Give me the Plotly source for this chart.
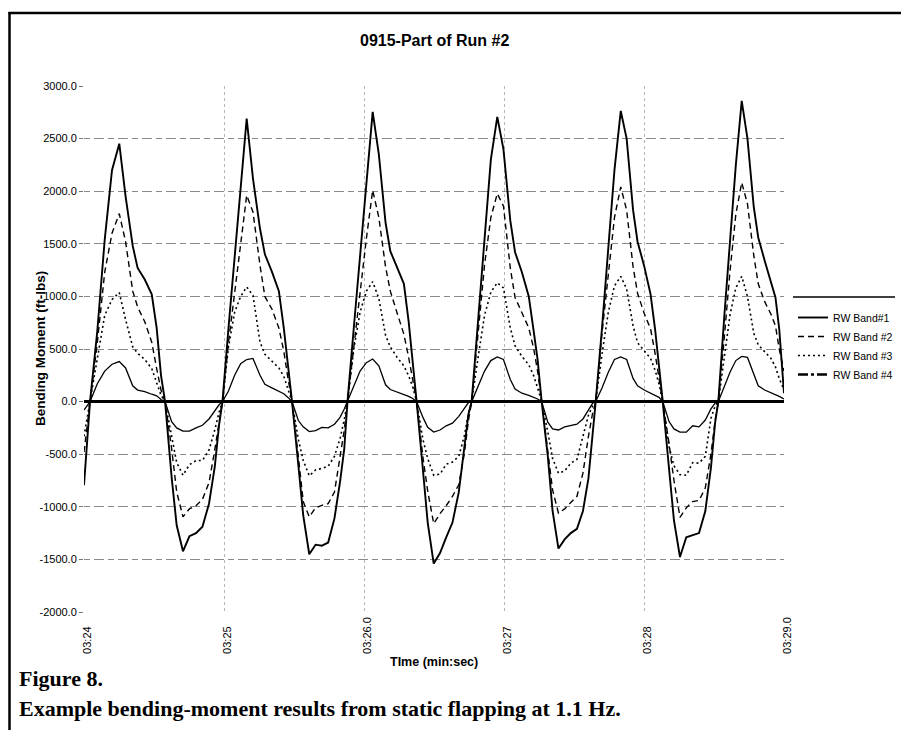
import plotly.graph_objects as go

# time in seconds after 03:24 (sample instants)
time_s = [
    0.000,
    0.043, 0.095, 0.148, 0.200, 0.252, 0.297, 0.348, 0.383, 0.434, 0.484, 0.519, 0.550, 0.579, 0.626, 0.662, 0.707, 0.753, 0.800, 0.846, 0.893, 0.934, 0.965,
    0.989, 1.032, 1.076, 1.119, 1.162, 1.207, 1.257, 1.292, 1.342, 1.392, 1.427, 1.457, 1.486, 1.531, 1.566, 1.609, 1.654, 1.699, 1.744, 1.789, 1.829, 1.859,
    1.882, 1.927, 1.972, 2.017, 2.062, 2.106, 2.154, 2.188, 2.237, 2.285, 2.319, 2.348, 2.376, 2.421, 2.455, 2.498, 2.543, 2.587, 2.632, 2.677, 2.716, 2.746,
    2.769, 2.815, 2.861, 2.906, 2.952, 2.996, 3.045, 3.079, 3.128, 3.177, 3.211, 3.240, 3.269, 3.313, 3.347, 3.389, 3.433, 3.477, 3.521, 3.564, 3.603, 3.633,
    3.655, 3.700, 3.745, 3.789, 3.834, 3.876, 3.922, 3.954, 4.001, 4.047, 4.079, 4.107, 4.134, 4.179, 4.214, 4.257, 4.302, 4.348, 4.393, 4.438, 4.478, 4.508,
    4.531, 4.573, 4.615, 4.656, 4.698, 4.739, 4.784, 4.816, 4.862, 4.907, 4.939, 4.966, 5.000,
]

band1 = [
    -795,
    0, 670, 1540, 2200, 2452, 1950, 1480, 1270, 1160, 1020, 700, 250, 0, -720, -1176, -1423, -1280, -1250, -1190, -970, -620, -220,
    0, 700, 1390, 2050, 2690, 2120, 1645, 1400, 1235, 1050, 700, 345, 0, -605, -1081, -1451, -1360, -1370, -1340, -1110, -760, -450,
    0, 700, 1400, 2100, 2754, 2350, 1700, 1430, 1270, 1120, 760, 400, 0, -650, -1150, -1540, -1440, -1290, -1150, -860, -460, -120,
    0, 800, 1600, 2300, 2706, 2400, 1720, 1420, 1230, 1000, 680, 400, 0, -520, -1040, -1397, -1310, -1250, -1210, -1040, -730, -330,
    0, 700, 1486, 2200, 2763, 2500, 1820, 1520, 1290, 1020, 690, 360, 0, -640, -1130, -1477, -1290, -1270, -1250, -1040, -630, -200,
    0, 800, 1500, 2250, 2858, 2500, 1850, 1560, 1340, 1140, 990, 690, 80,
]

band2 = [
    -480,
    0, 560, 1230, 1600, 1787, 1520, 1050, 900, 760, 565, 314, 110, 0, -447, -858, -1096, -1020, -990, -930, -770, -460, -190,
    0, 560, 1020, 1490, 1961, 1803, 1296, 1000, 880, 700, 480, 220, 0, -520, -950, -1096, -1010, -986, -970, -860, -500, -270,
    0, 520, 1050, 1550, 2009, 1750, 1280, 1050, 840, 640, 420, 200, 0, -530, -850, -1160, -1065, -990, -900, -790, -500, -180,
    0, 650, 1300, 1750, 1977, 1860, 1270, 990, 850, 700, 510, 290, 0, -450, -840, -1060, -1020, -960, -900, -680, -330, -110,
    0, 650, 1230, 1750, 2041, 1820, 1280, 1030, 840, 690, 460, 240, 0, -400, -750, -1100, -1010, -950, -940, -820, -500, -180,
    0, 600, 1250, 1780, 2082, 1880, 1390, 1120, 950, 830, 720, 500, 290,
]

band3 = [
    -330,
    0, 400, 820, 970, 1036, 780, 520, 460, 400, 314, 190, 60, 0, -350, -580, -700, -600, -560, -560, -460, -270, -100,
    0, 520, 850, 1000, 1090, 1010, 567, 450, 385, 320, 240, 120, 0, -360, -560, -705, -650, -635, -615, -520, -352, -170,
    0, 500, 850, 1050, 1140, 980, 630, 520, 420, 340, 245, 140, 0, -360, -540, -700, -690, -595, -575, -520, -330, -110,
    0, 420, 820, 1040, 1130, 1080, 700, 530, 430, 350, 250, 130, 0, -290, -540, -680, -660, -585, -550, -330, -130, -40,
    0, 450, 850, 1100, 1190, 1070, 720, 560, 480, 410, 300, 170, 0, -430, -610, -695, -700, -580, -585, -520, -160, -40,
    0, 420, 830, 1080, 1190, 1000, 650, 540, 475, 410, 330, 220, 110,
]

band4 = [
    -80,
    0, 170, 290, 355, 380, 320, 150, 110, 95, 70, 55, 20, 0, -190, -250, -280, -280, -250, -225, -165, -90, -30,
    0, 100, 250, 360, 400, 410, 250, 165, 130, 100, 75, 40, 0, -180, -240, -285, -275, -245, -250, -215, -150, -70,
    0, 150, 290, 370, 405, 340, 160, 115, 90, 70, 50, 30, 0, -150, -245, -290, -270, -230, -205, -140, -70, -10,
    0, 150, 290, 390, 425, 400, 210, 120, 80, 60, 45, 25, 0, -195, -260, -270, -240, -225, -215, -165, -80, -15,
    0, 130, 280, 400, 425, 400, 220, 150, 110, 80, 60, 40, 0, -190, -260, -290, -290, -230, -240, -175, -70, -15,
    0, 140, 282, 390, 430, 420, 260, 150, 110, 85, 70, 50, 25,
]

series_names = ["RW Band#1", "RW Band #2", "RW Band #3", "RW Band #4"]
x_tick_vals = [0, 1, 2, 3, 4, 5]
x_tick_text = ["03:24", "03:25", "03:26.0", "03:27", "03:28", "03:29.0"]
y_tick_vals = [-2000, -1500, -1000, -500, 0, 500, 1000, 1500, 2000, 2500, 3000]
y_tick_text = ["-2000.0", "-1500.0", "-1000.0", "-500.0", "0.0", "500.0",
               "1000.0", "1500.0", "2000.0", "2500.0", "3000.0"]

for s in (band1, band2, band3, band4):
    assert len(s) == len(time_s), (len(s), len(time_s))

# rotated labels are bottom-aligned in the original: pad short ones at their end
NB = "\u00a0"
x_tick_disp = [t if "." in t else t + NB * 3 for t in x_tick_text]

FONT = "Arial, Liberation Sans, sans-serif"
SERIF = "Times New Roman, Liberation Serif, serif"

fig = go.Figure()
fig.add_trace(go.Scatter(x=time_s, y=band1, mode="lines", name=series_names[0],
                         line=dict(color="black", width=1.9)))
fig.add_trace(go.Scatter(x=time_s, y=band2, mode="lines", name=series_names[1],
                         line=dict(color="black", width=1.4, dash="6px,4px")))
fig.add_trace(go.Scatter(x=time_s, y=band3, mode="lines", name=series_names[2],
                         line=dict(color="black", width=1.6, dash="2px,3px")))
fig.add_trace(go.Scatter(x=time_s, y=band4, mode="lines", name=series_names[3],
                         showlegend=False, legendgroup="b4",
                         line=dict(color="black", width=1.3)))
fig.add_trace(go.Scatter(x=[None], y=[None], mode="lines", name=series_names[3],
                         legendgroup="b4",
                         line=dict(color="black", width=2.6, dash="10px,3px,3px,3px")))

# the page body adds an 8px offset; positions below are given in screen pixels
OFF = 8
W, H = 909 - OFF, 730 - OFF
PL, PR, PT, PB = 84, 784, 86, 612           # plot box on screen
L, R, T, B = PL - OFF, W - (PR - OFF), PT - OFF, H - (PB - OFF)
pw, ph = PR - PL, PB - PT


def px(xs):
    return (xs - PL) / pw


def py(ys):
    return (PB - ys) / ph


fig.update_layout(
    width=W, height=H,
    margin=dict(l=L, r=R, t=T, b=B, autoexpand=False),
    paper_bgcolor="white", plot_bgcolor="white",
    font=dict(family=FONT, color="black", size=11),
    showlegend=True,
    legend=dict(x=px(793), y=py(303), xanchor="left", yanchor="top",
                font=dict(family=FONT, size=10.5, color="black"),
                bgcolor="rgba(0,0,0,0)", tracegroupgap=0, itemwidth=30),
    xaxis=dict(range=[0, 5], tickvals=x_tick_vals, ticktext=x_tick_disp,
               tickangle=-90, showgrid=True, gridcolor="#b4b4b4", gridwidth=1,
               griddash="dot", zeroline=False, showline=False, ticks="",
               ticklabelshift=3, ticklabelstandoff=2,
               tickfont=dict(family=FONT, size=11, color="black")),
    yaxis=dict(range=[-2000, 3000], tickvals=y_tick_vals, ticktext=y_tick_text,
               showgrid=True, gridcolor="#8a8a8a", gridwidth=1, griddash="6px,4px,10px,4px",
               zeroline=True, zerolinecolor="black", zerolinewidth=3.2,
               showline=False, ticks="outside", ticklen=4, tickcolor="#777",
               tickfont=dict(family=FONT, size=11, color="black")),
    annotations=[
        dict(text="<b>0915-Part of Run #2</b>", x=px(434), y=py(40), xref="paper", yref="paper",
             xanchor="center", yanchor="middle",
             showarrow=False, font=dict(family=FONT, size=16, color="black")),
        dict(text="<b>Bending Moment (ft-lbs)</b>", x=px(40), y=py(349), xref="paper", yref="paper",
             xanchor="center", yanchor="middle",
             showarrow=False, textangle=-90, font=dict(family=FONT, size=13.5, color="black")),
        dict(text="<b>TIme (min:sec)</b>", x=px(434), y=py(662), xref="paper", yref="paper",
             xanchor="center", yanchor="middle",
             showarrow=False, font=dict(family=FONT, size=12.5, color="black")),
        dict(text="<b>Figure 8.</b>", x=px(17), y=py(678), xref="paper", yref="paper",
             xanchor="left", yanchor="middle",
             showarrow=False, font=dict(family=SERIF, size=22, color="black")),
        dict(text="<b>Example bending-moment results from static flapping at 1.1 Hz.</b>",
             x=px(17), y=py(708), xref="paper", yref="paper", xanchor="left", yanchor="middle",
             showarrow=False, font=dict(family=SERIF, size=22, color="black")),
    ],
    shapes=[
        dict(type="line", xref="paper", yref="paper", x0=px(9.5), x1=px(9.5), y0=py(12), y1=py(740),
             line=dict(color="black", width=2.5)),
        dict(type="line", xref="paper", yref="paper", x0=px(8.5), x1=px(920), y0=py(13), y1=py(13),
             line=dict(color="black", width=2.5)),
        dict(type="line", xref="paper", yref="paper", x0=px(793), x1=px(895), y0=py(297), y1=py(297),
             line=dict(color="black", width=1.5)),
    ],
)

fig.write_html("out.html")
